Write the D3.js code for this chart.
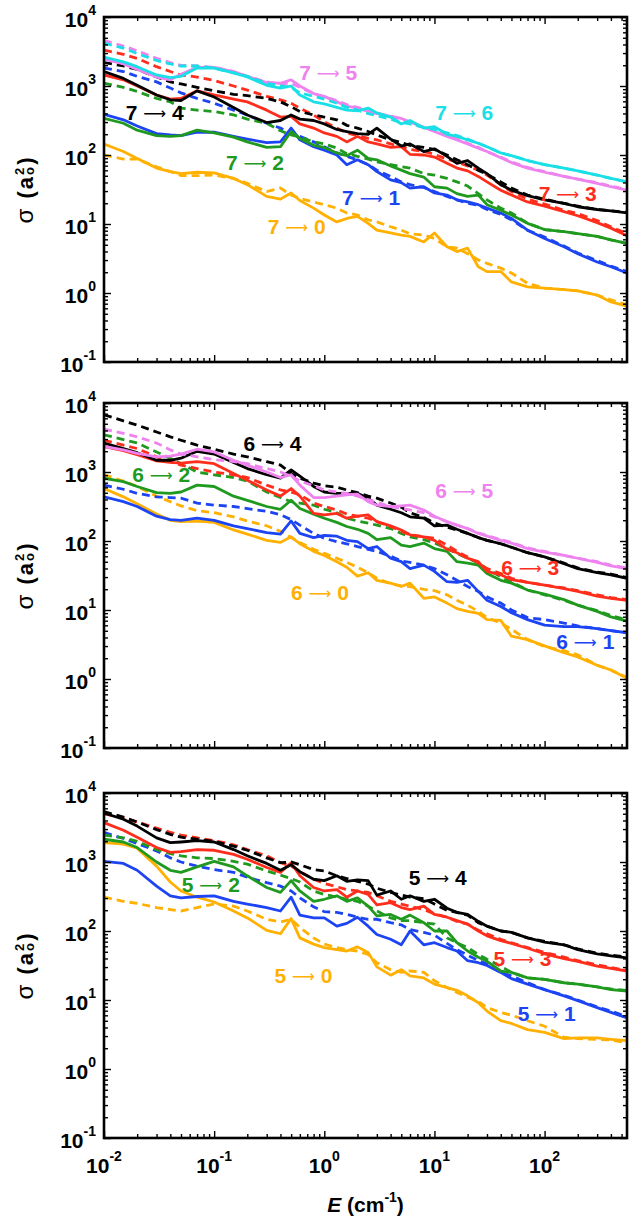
<!DOCTYPE html>
<html>
<head>
<meta charset="utf-8">
<script src="https://cdn.jsdelivr.net/npm/d3@7"></script>
<style>
  body { margin: 0; background: #fff; }
  svg text { font-family: "Liberation Sans", Arial, Helvetica, sans-serif; }
</style>
</head>
<body>
<div id="chart"></div>
<script>
const energy = [0.01, 0.015, 0.02, 0.03, 0.04, 0.05, 0.07, 0.1, 0.15, 0.2, 0.3, 0.4, 0.5, 0.6, 0.8,
    1, 1.3, 1.6, 2, 2.5, 3, 4, 5, 6, 8, 10, 13, 16, 20, 25, 30, 40, 50, 70, 100, 150, 200, 300, 400, 560];

// Cross sections, stored as log10(sigma / a_o^2).  s = solid curve, d = dashed curve, s74 = 7 -> 4
// --- v = 7 ---
const s70 = [2.16,2.05,1.95,1.81,1.76,1.73,1.75,1.74,1.66,1.57,1.40,1.36,1.45,1.34,1.23,1.13,1.03,1.08,1.11,1.01,0.91,0.87,0.84,0.82,0.74,0.87,0.67,0.60,0.65,0.38,0.31,0.31,0.16,0.09,0.07,0.05,0.03,-0.03,-0.13,-0.19];
const d70 = [2.00,1.94,1.94,1.83,1.76,1.70,1.70,1.71,1.66,1.59,1.47,1.52,1.42,1.37,1.32,1.28,1.23,1.16,1.13,1.06,1.03,0.96,0.91,0.86,0.84,0.79,0.67,0.65,0.57,0.48,0.43,0.36,0.29,0.14,0.07,0.05,0.03,-0.03,-0.10,-0.17];
const s71 = [2.59,2.51,2.42,2.31,2.29,2.28,2.33,2.33,2.27,2.23,2.18,2.19,2.39,2.22,2.12,2.07,2.00,1.86,1.93,1.86,1.76,1.64,1.60,1.52,1.54,1.45,1.42,1.35,1.32,1.28,1.23,1.16,1.08,0.91,0.79,0.67,0.57,0.45,0.38,0.29];
const d71 = [3.26,3.21,3.14,3.06,2.97,2.90,2.82,2.75,2.65,2.58,2.46,2.39,2.31,2.27,2.19,2.12,2.03,1.98,1.93,1.86,1.78,1.69,1.61,1.57,1.53,1.47,1.40,1.35,1.30,1.27,1.21,1.14,1.06,0.91,0.81,0.68,0.58,0.47,0.39,0.31];
const s72 = [2.53,2.46,2.36,2.28,2.27,2.28,2.36,2.32,2.26,2.19,2.11,2.12,2.34,2.24,2.14,2.11,2.03,1.99,2.07,1.95,1.93,1.84,1.78,1.73,1.68,1.54,1.52,1.44,1.40,1.42,1.28,1.20,1.13,1.01,0.92,0.89,0.86,0.82,0.77,0.72];
const d72 = [3.04,2.98,2.92,2.82,2.77,2.68,2.65,2.63,2.58,2.52,2.46,2.35,2.29,2.26,2.19,2.16,2.10,2.02,1.98,1.94,1.90,1.86,1.83,1.81,1.73,1.71,1.66,1.61,1.55,1.44,1.35,1.23,1.16,1.01,0.92,0.89,0.86,0.82,0.77,0.72];
const s73 = [3.16,3.09,3.00,2.87,2.81,2.82,2.93,2.87,2.81,2.77,2.65,2.55,2.56,2.45,2.39,2.32,2.27,2.19,2.27,2.19,2.16,2.11,2.12,2.01,2.00,1.97,1.88,1.81,1.77,1.69,1.61,1.49,1.42,1.32,1.26,1.18,1.12,1.02,0.94,0.83];
const d73 = [3.52,3.46,3.40,3.28,3.21,3.16,3.13,3.08,3.00,2.94,2.85,2.80,2.75,2.68,2.58,2.48,2.39,2.32,2.28,2.24,2.22,2.16,2.12,2.08,2.05,2.01,1.94,1.90,1.84,1.78,1.71,1.57,1.47,1.36,1.29,1.20,1.15,1.05,0.96,0.86];
const s74 = [3.21,3.11,3.01,2.87,2.80,2.79,2.93,2.84,2.69,2.58,2.47,2.50,2.58,2.52,2.50,2.45,2.37,2.34,2.31,2.30,2.39,2.23,2.13,2.16,2.05,2.09,1.98,1.88,1.92,1.81,1.73,1.57,1.49,1.41,1.35,1.30,1.25,1.21,1.19,1.16];
const d74 = [3.34,3.29,3.24,3.13,3.06,3.03,2.98,2.93,2.88,2.86,2.82,2.77,2.70,2.63,2.58,2.55,2.51,2.43,2.39,2.34,2.29,2.22,2.18,2.14,2.11,2.08,2.00,1.93,1.86,1.78,1.72,1.61,1.52,1.42,1.36,1.30,1.26,1.21,1.19,1.17];
const s75 = [3.39,3.32,3.24,3.13,3.09,3.17,3.27,3.27,3.21,3.14,3.05,3.04,3.09,3.00,2.89,2.85,2.77,2.71,2.68,2.63,2.60,2.56,2.53,2.48,2.40,2.34,2.27,2.22,2.16,2.10,2.05,1.96,1.89,1.81,1.75,1.69,1.65,1.59,1.54,1.49];
const d75 = [3.66,3.58,3.51,3.40,3.34,3.30,3.29,3.27,3.21,3.14,3.06,3.03,3.04,2.98,2.89,2.84,2.79,2.73,2.69,2.65,2.61,2.56,2.52,2.47,2.40,2.35,2.28,2.23,2.17,2.11,2.05,1.97,1.90,1.82,1.76,1.69,1.65,1.60,1.55,1.50];
const s76 = [3.42,3.35,3.28,3.16,3.12,3.14,3.26,3.26,3.19,3.13,3.01,2.97,3.00,2.87,2.77,2.74,2.69,2.65,2.64,2.68,2.61,2.55,2.45,2.50,2.39,2.41,2.30,2.27,2.22,2.17,2.12,2.03,1.99,1.92,1.86,1.81,1.77,1.71,1.66,1.61];
const d76 = [3.62,3.55,3.47,3.37,3.32,3.29,3.29,3.26,3.19,3.14,3.04,3.00,2.98,2.90,2.85,2.81,2.75,2.69,2.65,2.60,2.57,2.52,2.47,2.45,2.40,2.37,2.32,2.28,2.23,2.17,2.12,2.03,1.99,1.92,1.86,1.81,1.77,1.71,1.66,1.61];
// --- v = 6 ---
const s60 = [2.76,2.64,2.54,2.39,2.30,2.28,2.29,2.27,2.16,2.10,2.01,1.98,2.06,1.96,1.85,1.79,1.70,1.62,1.49,1.54,1.43,1.39,1.34,1.39,1.17,1.19,1.10,1.02,0.98,0.95,0.86,0.85,0.62,0.57,0.48,0.38,0.32,0.20,0.13,0.01];
const d60 = [2.96,2.87,2.79,2.65,2.57,2.51,2.44,2.41,2.35,2.29,2.22,2.14,2.05,1.98,1.88,1.82,1.75,1.69,1.62,1.54,1.46,1.38,1.35,1.34,1.30,1.28,1.22,1.14,1.07,0.98,0.89,0.81,0.72,0.57,0.47,0.41,0.35,0.20,0.13,0.02];
const s61 = [2.64,2.57,2.50,2.36,2.31,2.30,2.33,2.30,2.22,2.18,2.12,2.10,2.29,2.11,2.05,2.08,2.07,2.01,1.99,1.89,1.92,1.75,1.70,1.60,1.65,1.56,1.41,1.40,1.43,1.27,1.14,1.05,0.96,0.86,0.78,0.76,0.76,0.73,0.70,0.67];
const d61 = [2.81,2.75,2.69,2.64,2.63,2.62,2.55,2.52,2.50,2.47,2.43,2.38,2.31,2.23,2.11,2.04,1.99,1.96,1.92,1.88,1.85,1.78,1.71,1.69,1.65,1.60,1.51,1.43,1.34,1.27,1.19,1.10,1.00,0.89,0.86,0.81,0.77,0.73,0.70,0.67];
const s62 = [2.91,2.86,2.79,2.70,2.69,2.71,2.81,2.79,2.65,2.59,2.50,2.46,2.59,2.47,2.39,2.33,2.27,2.21,2.17,2.11,2.02,2.05,1.94,1.92,1.97,1.89,1.85,1.70,1.68,1.65,1.53,1.43,1.39,1.29,1.23,1.15,1.07,0.98,0.90,0.84];
const d62 = [3.54,3.47,3.42,3.29,3.20,3.12,3.00,2.96,2.92,2.87,2.71,2.63,2.57,2.55,2.52,2.46,2.41,2.33,2.29,2.26,2.23,2.18,2.11,2.06,2.02,1.97,1.89,1.82,1.75,1.68,1.60,1.48,1.41,1.29,1.22,1.14,1.07,0.99,0.92,0.86];
const s63 = [3.37,3.31,3.25,3.16,3.14,3.13,3.15,3.12,2.98,2.88,2.74,2.65,2.76,2.65,2.40,2.38,2.40,2.33,2.36,2.38,2.28,2.22,2.16,2.09,2.06,2.01,1.88,1.83,1.75,1.70,1.56,1.51,1.44,1.40,1.36,1.31,1.27,1.20,1.17,1.14];
const d63 = [3.46,3.39,3.34,3.22,3.15,3.10,3.05,3.00,2.96,2.92,2.81,2.74,2.71,2.67,2.55,2.50,2.45,2.39,2.36,2.33,2.28,2.21,2.14,2.09,2.06,2.04,1.94,1.85,1.77,1.68,1.60,1.53,1.46,1.40,1.36,1.32,1.28,1.22,1.18,1.15];
const s64 = [3.42,3.34,3.28,3.17,3.17,3.20,3.30,3.26,3.14,3.05,2.96,2.91,3.03,2.94,2.79,2.71,2.69,2.69,2.69,2.62,2.52,2.46,2.41,2.35,2.33,2.22,2.23,2.17,2.11,2.05,2.01,1.96,1.91,1.83,1.77,1.67,1.60,1.54,1.51,1.46];
const d64 = [3.83,3.74,3.68,3.58,3.51,3.46,3.39,3.33,3.26,3.22,3.15,3.10,2.98,2.91,2.84,2.80,2.78,2.74,2.70,2.65,2.62,2.55,2.49,2.41,2.34,2.26,2.20,2.16,2.11,2.05,2.01,1.96,1.91,1.83,1.77,1.68,1.61,1.55,1.52,1.47];
const s65 = [3.37,3.32,3.27,3.22,3.23,3.26,3.33,3.29,3.17,3.10,3.00,2.92,2.96,2.81,2.63,2.63,2.65,2.67,2.68,2.57,2.52,2.50,2.51,2.52,2.45,2.36,2.28,2.23,2.18,2.11,2.07,2.01,1.97,1.89,1.84,1.79,1.75,1.69,1.64,1.60];
const d65 = [3.62,3.56,3.51,3.42,3.32,3.26,3.22,3.18,3.15,3.12,3.05,3.00,2.94,2.87,2.80,2.74,2.71,2.69,2.65,2.60,2.56,2.50,2.47,2.45,2.41,2.35,2.28,2.23,2.18,2.12,2.08,2.02,1.98,1.90,1.85,1.79,1.75,1.70,1.65,1.61];
// --- v = 5 ---
const s50 = [3.28,3.26,3.20,2.94,2.71,2.58,2.49,2.42,2.29,2.19,2.01,1.96,2.18,1.90,1.81,1.76,1.73,1.71,1.77,1.69,1.48,1.36,1.44,1.35,1.32,1.23,1.18,1.14,1.06,0.96,0.84,0.70,0.66,0.57,0.53,0.44,0.45,0.45,0.43,0.41];
const d50 = [2.49,2.43,2.40,2.34,2.31,2.29,2.34,2.39,2.36,2.29,2.17,2.13,2.17,2.05,1.90,1.81,1.76,1.73,1.71,1.66,1.54,1.44,1.40,1.42,1.40,1.28,1.18,1.11,1.04,0.98,0.89,0.82,0.78,0.70,0.62,0.46,0.44,0.43,0.42,0.38];
const s51 = [3.01,2.98,2.88,2.65,2.51,2.48,2.50,2.51,2.43,2.39,2.34,2.29,2.49,2.23,2.19,2.19,2.07,2.11,2.20,2.07,1.95,1.88,1.80,2.00,1.80,1.83,1.76,1.71,1.57,1.54,1.50,1.40,1.31,1.23,1.15,1.06,0.99,0.89,0.82,0.74];
const d51 = [3.43,3.34,3.27,3.16,3.06,3.00,2.94,2.89,2.85,2.78,2.70,2.65,2.58,2.48,2.35,2.28,2.27,2.24,2.20,2.17,2.17,2.12,2.09,2.02,1.98,1.94,1.82,1.73,1.65,1.57,1.52,1.40,1.35,1.25,1.15,1.07,1.00,0.90,0.84,0.76];
const s52 = [3.33,3.29,3.21,3.00,2.88,2.85,2.93,3.01,2.93,2.80,2.63,2.56,2.73,2.58,2.43,2.46,2.51,2.43,2.48,2.36,2.22,2.24,2.17,2.23,2.12,2.00,2.00,1.83,1.71,1.62,1.56,1.42,1.40,1.32,1.30,1.25,1.23,1.19,1.15,1.13];
const d52 = [3.39,3.35,3.30,3.18,3.12,3.09,3.06,3.05,3.01,2.97,2.87,2.81,2.76,2.71,2.58,2.53,2.49,2.46,2.43,2.36,2.29,2.19,2.15,2.15,2.12,2.10,1.90,1.83,1.76,1.66,1.59,1.49,1.40,1.32,1.30,1.25,1.23,1.19,1.16,1.14];
const s53 = [3.57,3.46,3.36,3.21,3.14,3.15,3.18,3.17,3.11,3.04,2.92,2.85,2.99,2.80,2.63,2.58,2.60,2.49,2.58,2.53,2.38,2.41,2.34,2.31,2.36,2.24,2.20,2.15,2.10,2.00,1.93,1.86,1.82,1.75,1.67,1.60,1.56,1.49,1.46,1.42];
const d53 = [3.70,3.64,3.58,3.49,3.43,3.39,3.35,3.31,3.25,3.18,3.09,2.99,2.94,2.86,2.75,2.69,2.64,2.60,2.58,2.56,2.51,2.43,2.39,2.36,2.31,2.25,2.20,2.14,2.10,2.01,1.96,1.88,1.83,1.76,1.69,1.62,1.57,1.51,1.47,1.43];
const s54 = [3.71,3.62,3.52,3.35,3.28,3.29,3.31,3.29,3.18,3.09,2.98,2.88,2.96,2.86,2.75,2.73,2.80,2.72,2.74,2.73,2.52,2.58,2.46,2.51,2.43,2.46,2.33,2.27,2.24,2.14,2.07,2.00,1.98,1.90,1.84,1.80,1.73,1.67,1.64,1.61];
const d54 = [3.73,3.65,3.58,3.47,3.40,3.36,3.33,3.30,3.23,3.17,3.06,2.99,3.00,2.96,2.89,2.87,2.80,2.76,2.72,2.68,2.62,2.56,2.52,2.49,2.47,2.39,2.30,2.27,2.23,2.12,2.07,2.00,1.98,1.90,1.85,1.80,1.74,1.68,1.65,1.62];

// Colour of each final state (0 ... 6)
const stateColors = ["#ffb000", "#1c44f2", "#1f9a1f", "#ff2d1c", "#000000", "#ee82ee", "#19dfe6"];

// Axis ticks
const xMajor = [1e-2, 1e-1, 1e0, 1e1, 1e2];
const yMajor = [1e-1, 1e0, 1e1, 1e2, 1e3, 1e4];

// Curve labels: [initial v, final v', log10 E, log10 sigma] (text centre / baseline)
const curveLabels = [
    [7, 4, -1.54, 2.51], [7, 2, -0.63, 1.78], [7, 0, -0.25, 0.85], [7, 5, 0.035, 3.08],
    [7, 6, 1.27, 2.51], [7, 1, 0.425, 1.28], [7, 3, 2.21, 1.34],
    [6, 4, -0.47, 3.31], [6, 2, -1.48, 2.85], [6, 0, -0.04, 1.14], [6, 5, 1.27, 2.63],
    [6, 3, 1.87, 1.51], [6, 1, 2.37, 0.43],
    [5, 2, -1.03, 2.56], [5, 0, -0.19, 1.25], [5, 4, 1.03, 2.67], [5, 3, 1.80, 1.50], [5, 1, 2.02, 0.70]
];

const curves = {
    7: [[s70, d70], [s71, d71], [s72, d72], [s73, d73], [s74, d74], [s75, d75], [s76, d76]],
    6: [[s60, d60], [s61, d61], [s62, d62], [s63, d63], [s64, d64], [s65, d65]],
    5: [[s50, d50], [s51, d51], [s52, d52], [s53, d53], [s54, d54]]
};

document.addEventListener('DOMContentLoaded', drawChart);

function drawChart() {
    const totalWidth = 629, totalHeight = 1219;
    const plotLeft = 104, plotWidth = 523, plotHeight = 345;
    const panels = [{v: 7, top: 17}, {v: 6, top: 403}, {v: 5, top: 793}];

    const svg = d3.select("#chart")
        .append("svg")
        .attr("width", totalWidth)
        .attr("height", totalHeight);

    const xScale = d3.scaleLog().domain([0.01, 560]).range([0, plotWidth]);
    const yScale = d3.scaleLog().domain([0.1, 1e4]).range([plotHeight, 0]);

    // minor ticks 2..9 of every decade
    const xMinor = [];
    for (let e = -2; e <= 2; e++) for (let k = 2; k <= 9; k++) if (k * 10 ** e <= 560) xMinor.push(k * 10 ** e);
    const yMinor = [];
    for (let e = -1; e <= 3; e++) for (let k = 2; k <= 9; k++) yMinor.push(k * 10 ** e);

    const line = d3.line()
        .x((d, i) => xScale(energy[i]))
        .y(d => yScale(Math.pow(10, d)));

    panels.forEach((p, pi) => {
        const g = svg.append("g").attr("transform", `translate(${plotLeft},${p.top})`);

        g.append("clipPath").attr("id", "clip" + pi)
            .append("rect").attr("width", plotWidth).attr("height", plotHeight);

        const lines = g.append("g").attr("clip-path", `url(#clip${pi})`);
        curves[p.v].forEach((pair, j) => {
            // dashed first, solid on top
            lines.append("path")
                .attr("d", line(pair[1]))
                .attr("fill", "none")
                .attr("stroke", stateColors[j])
                .attr("stroke-width", 2.8)
                .attr("stroke-dasharray", "8,5");
            lines.append("path")
                .attr("d", line(pair[0]))
                .attr("fill", "none")
                .attr("stroke", stateColors[j])
                .attr("stroke-width", 2.8)
                .attr("stroke-linejoin", "round");
        });

        // inward ticks on all four sides
        const axes = [
            [d3.axisBottom, xScale, xMajor, xMinor, `translate(0,${plotHeight})`],
            [d3.axisTop, xScale, xMajor, xMinor, "translate(0,0)"],
            [d3.axisLeft, yScale, yMajor, yMinor, "translate(0,0)"],
            [d3.axisRight, yScale, yMajor, yMinor, `translate(${plotWidth},0)`]
        ];
        axes.forEach(([axisFn, sc, major, minor, tr]) => {
            [[major, -7], [minor, -4]].forEach(([vals, size]) => {
                g.append("g")
                    .attr("transform", tr)
                    .call(axisFn(sc).tickValues(vals).tickSize(size).tickFormat(""))
                    .call(a => a.select(".domain").remove())
                    .selectAll("line")
                    .attr("stroke", "#000")
                    .attr("stroke-width", 1.4);
            });
        });

        // frame
        g.append("rect")
            .attr("width", plotWidth)
            .attr("height", plotHeight)
            .attr("fill", "none")
            .attr("stroke", "#000")
            .attr("stroke-width", 2.6);

        // y tick labels
        yMajor.forEach(v => {
            const t = g.append("text")
                .attr("x", -8)
                .attr("y", yScale(v) + 10)
                .attr("text-anchor", "end")
                .style("font-weight", "bold")
                .style("font-size", "21px");
            t.append("tspan").text("10");
            t.append("tspan").attr("dy", -12).style("font-size", "14px").text(Math.round(Math.log10(v)));
        });

        // y axis title: sigma (a_o^2), o and 2 stacked as in gnuplot
        const yt = svg.append("text")
            .attr("transform", `translate(33,${p.top + plotHeight / 2}) rotate(-90)`)
            .attr("text-anchor", "middle")
            .style("font-size", "22px")
            .style("font-weight", "bold")
            .style("letter-spacing", "2px");
        yt.append("tspan").style("font-weight", "normal").style("font-size", "24px").text("\u03c3");
        yt.append("tspan").text(" (a");
        yt.append("tspan").attr("dy", 1).style("font-size", "13px").text("o");
        yt.append("tspan").attr("dx", -10).attr("dy", -10).style("font-size", "13px").text("2");
        yt.append("tspan").attr("dx", 1).attr("dy", 9).text(")");

        // curve labels
        curveLabels.filter(l => l[0] === p.v).forEach(l => {
            const t = g.append("text")
                .attr("x", xScale(Math.pow(10, l[2])))
                .attr("y", yScale(Math.pow(10, l[3])))
                .attr("text-anchor", "middle")
                .attr("fill", stateColors[l[1]])
                .style("font-size", "21px")
                .style("font-weight", "bold");
            t.append("tspan").text(l[0] + " ");
            t.append("tspan")
                .style("font-weight", "normal")
                .style("font-family", "'DejaVu Sans'")
                .style("font-size", "16px")
                .attr("dy", -1)
                .text("\u27f6");
            t.append("tspan").attr("dy", 1).text(" " + l[1]);
        });

        // x tick labels only under the last panel
        if (pi === panels.length - 1) {
            xMajor.forEach(v => {
                const t = g.append("text")
                    .attr("x", xScale(v))
                    .attr("y", plotHeight + 35)
                    .attr("text-anchor", "middle")
                    .style("font-weight", "bold")
                    .style("font-size", "21px");
                t.append("tspan").text("10");
                t.append("tspan").attr("dy", -12).style("font-size", "14px").text(Math.round(Math.log10(v)));
            });

            const xt = g.append("text")
                .attr("x", plotWidth / 2)
                .attr("y", plotHeight + 74)
                .attr("text-anchor", "middle")
                .style("font-size", "21px")
                .style("font-weight", "bold");
            xt.append("tspan").style("font-style", "italic").text("E");
            xt.append("tspan").text(" (cm");
            xt.append("tspan").attr("dy", -10).style("font-size", "14px").text("-1");
            xt.append("tspan").attr("dy", 10).text(")");
        }
    });
}
</script>
</body>
</html>
